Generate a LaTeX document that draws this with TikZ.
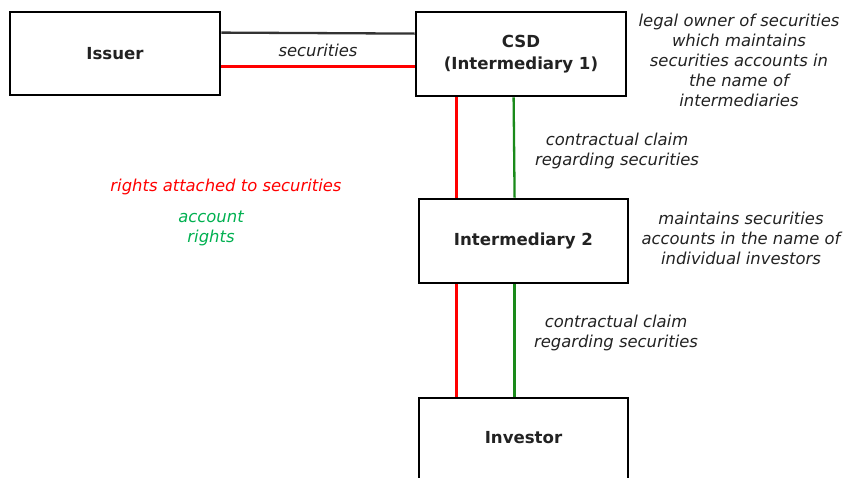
\documentclass[tikz,border=0pt]{standalone}
\usepackage{fontspec}
\setmainfont{DejaVu Sans}
\definecolor{txt}{HTML}{222222}
\definecolor{lred}{HTML}{FF0000}
\definecolor{lgreen}{HTML}{1A8A1A}
\definecolor{tgreen}{HTML}{00B050}
\begin{document}
\begin{tikzpicture}[x=1pt,y=-1pt,
  box/.style={draw=black,line width=2.8pt,fill=white,inner sep=0pt,font=\fontsize{16.6}{22.5}\selectfont\bfseries,text=txt,align=center},
  note/.style={font=\fontsize{16.4}{20}\selectfont\itshape,text=txt,align=center,inner sep=0pt},
  conn/.style={line width=2.3pt}]
\useasboundingbox (0,0) rectangle (848,477);
\node[box,minimum width=210pt,minimum height=83pt] (issuer) at (115,53.5) {Issuer};
\node[box,minimum width=210pt,minimum height=84pt] (csd) at (521,54) {CSD\\(Intermediary 1)};
\node[box,minimum width=209pt,minimum height=84pt] (int2) at (523.5,241) {Intermediary 2};
\node[box,minimum width=209pt,minimum height=90pt] (inv) at (523.5,443) {};
\node[font=\fontsize{16.6}{21}\selectfont\bfseries,text=txt,inner sep=0pt] (invlabel) at (523.5,438) {Investor};

\draw[conn,black!80] ([yshift=-22pt]issuer.north east) -- ([yshift=-23pt]csd.north west);
\draw[conn,lred] ([yshift=-56pt]issuer.north east) -- ([yshift=-56pt]csd.north west);
\node[note] (seclbl) at (318,50) {securities};

\draw[conn,lred] ([xshift=42pt]csd.south west) -- ([xshift=39pt]int2.north west);
\draw[conn,lgreen] ([xshift=99pt]csd.south west) -- ([xshift=97pt]int2.north west);
\draw[conn,lred] ([xshift=39pt]int2.south west) -- ([xshift=39pt]inv.north west);
\draw[conn,lgreen] ([xshift=97pt]int2.south west) -- ([xshift=97pt]inv.north west);

\node[note] (cc1) at (617,151) {contractual claim\\regarding securities};
\node[note] (cc2) at (616,333) {contractual claim\\regarding securities};
\node[note] (n1) at (739,60) {legal owner of securities\\which maintains\\securities accounts in\\the name of\\intermediaries};
\node[note] (n2) at (741,238) {maintains securities\\accounts in the name of\\individual investors};
\node[note,text=lred] (rights) at (226,187) {rights attached to securities};
\node[note,text=tgreen] (acc) at (211,228) {account\\rights};
\end{tikzpicture}
\end{document}
